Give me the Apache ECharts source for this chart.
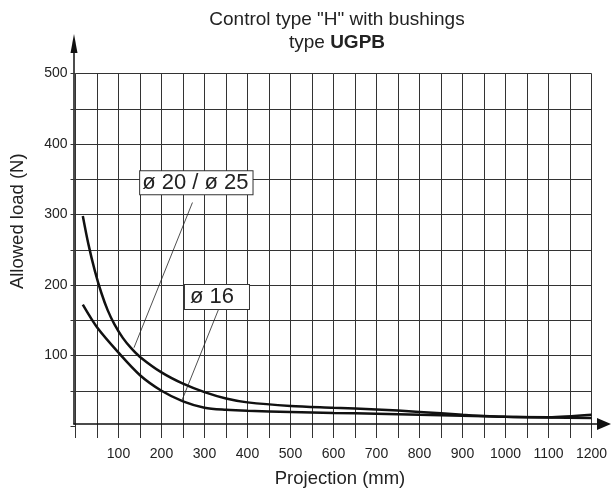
<!DOCTYPE html>
<html>
<head>
<meta charset="utf-8">
<script src="https://cdn.jsdelivr.net/npm/echarts@6/dist/echarts.min.js"></script>
<style>html,body{margin:0;padding:0;background:#fff}#c{width:611px;height:493px}</style>
</head>
<body>
<div id="c"></div>
<script>
// Data
const titleLine1 = 'Control type "H" with bushings';
const titleLine2a = 'type ';
const titleLine2b = 'UGPB';
const xName = 'Projection (mm)';
const yName = 'Allowed load (N)';

// curve "ø 20 / ø 25"
const xBig = [17, 30, 45, 60, 75, 90, 110, 130, 150, 200, 250, 300, 350, 400, 500, 600, 700, 800, 900, 1000, 1100, 1200];
const yBig = [298, 258, 220, 189, 164, 145, 125, 110, 98, 76, 60, 48, 39, 33.5, 28.5, 26, 23.5, 20, 16, 13, 12.5, 16];

// curve "ø 16"
const xSmall = [17, 50, 100, 150, 200, 250, 300, 350, 400, 500, 600, 700, 800, 900, 1000, 1100, 1200];
const ySmall = [172, 140, 104, 72, 50, 35, 26, 23, 21.5, 20, 18.5, 17.5, 16, 14.5, 13, 12, 11.5];

const labelBig = 'ø 20 / ø 25';
const labelSmall = 'ø 16';
const labelBigPos = [281, 345];
const labelSmallPos = [329, 183];
const leaderBig = [[272, 317], [136, 111]];
const leaderSmall = [[333, 166], [246, 34]];

const pairs = (xs, ys) => xs.map((x, i) => [x, ys[i]]);
const ink = '#222';
const gridColor = '#333';
const font = 'Liberation Sans, Arial, Helvetica, sans-serif';

const chart = echarts.init(document.getElementById('c'));
chart.setOption({
  animation: false,
  backgroundColor: '#fff',
  title: {
    text: titleLine1 + '\n{n|' + titleLine2a + '}{b|' + titleLine2b + '}',
    left: 332, top: 3, textAlign: 'center',
    textStyle: {
      fontFamily: font, fontSize: 19, fontWeight: 'normal', color: ink, lineHeight: 23.5,
      rich: {
        n: {fontFamily: font, fontSize: 19, color: ink, lineHeight: 23.5},
        b: {fontFamily: font, fontSize: 19, fontWeight: 'bold', color: ink, lineHeight: 23.5}
      }
    }
  },
  grid: [
    {left: 74, right: 19.5, top: 73.5, bottom: 65.4},
    // frame carrying the two arrowed axis lines
    {left: 74, right: 7, top: 43.5, bottom: 69}
  ],
  xAxis: [{
    type: 'value', min: 0, max: 1200, interval: 50,
    name: xName, nameLocation: 'middle', nameGap: 43,
    nameTextStyle: {fontFamily: font, fontSize: 18.5, color: ink, padding: [0, 0, 0, 13]},
    axisLine: {show: false},
    axisTick: {show: true, length: 12, lineStyle: {color: gridColor, width: 1}},
    axisLabel: {
      margin: 21, fontFamily: font, fontSize: 14, color: ink,
      formatter: v => (v > 0 && v % 100 === 0) ? String(v) : ''
    },
    splitLine: {show: true, lineStyle: {color: gridColor, width: 1}}
  }, {
    gridIndex: 1, type: 'value', min: 0, max: 100,
    axisLine: {show: true, onZero: false, symbol: ['none', 'triangle'], symbolSize: [12, 14],
      lineStyle: {color: '#111', width: 1.5}},
    axisTick: {show: false}, axisLabel: {show: false}, splitLine: {show: false}
  }],
  yAxis: [{
    type: 'value', min: 0, max: 500, interval: 50,
    name: yName, nameLocation: 'middle', nameGap: 48.5,
    nameTextStyle: {fontFamily: font, fontSize: 18.5, color: ink, padding: [0, 0, 0, 57]},
    axisLine: {show: false},
    axisTick: {show: true, length: 5, lineStyle: {color: gridColor, width: 1}},
    axisLabel: {
      margin: 8, fontFamily: font, fontSize: 14, color: ink,
      formatter: v => (v > 0 && v % 100 === 0) ? String(v) : ''
    },
    splitLine: {show: true, showMinLine: false, lineStyle: {color: gridColor, width: 1}}
  }, {
    gridIndex: 1, type: 'value', min: 0, max: 100,
    axisLine: {show: true, onZero: false, symbol: ['none', 'triangle'], symbolSize: [7, 19],
      lineStyle: {color: '#111', width: 1.5}},
    axisTick: {show: false}, axisLabel: {show: false}, splitLine: {show: false}
  }],
  series: [
    {
      type: 'line', name: labelBig, data: pairs(xBig, yBig), smooth: 0.3,
      showSymbol: false,
      lineStyle: {color: '#111', width: 2.5},
      markLine: {
        silent: true, symbol: ['none', 'none'], label: {show: false},
        lineStyle: {type: 'solid', color: ink, width: 0.8},
        data: [
          [{coord: leaderBig[0]}, {coord: leaderBig[1]}],
          [{coord: leaderSmall[0]}, {coord: leaderSmall[1]}]
        ]
      },
      markPoint: {
        silent: true, symbol: 'rect', symbolSize: 1,
        itemStyle: {color: 'rgba(0,0,0,0)'},
        data: [
          {coord: labelBigPos, label: {show: true, position: 'inside', formatter: labelBig,
            fontFamily: font, fontSize: 22, color: ink, lineHeight: 22,
            backgroundColor: '#fff', borderColor: '#333', borderWidth: 1, padding: [1, 4, 0, 2]}},
          {coord: labelSmallPos, label: {show: true, position: 'inside', formatter: labelSmall,
            fontFamily: font, fontSize: 22, color: ink, lineHeight: 22,
            backgroundColor: '#fff', borderColor: '#333', borderWidth: 1, padding: [1, 15, 1, 5]}}
        ]
      }
    },
    {
      type: 'line', name: labelSmall, data: pairs(xSmall, ySmall), smooth: 0.3,
      showSymbol: false,
      lineStyle: {color: '#111', width: 2.5}
    }
  ]
});
</script>
</body>
</html>
